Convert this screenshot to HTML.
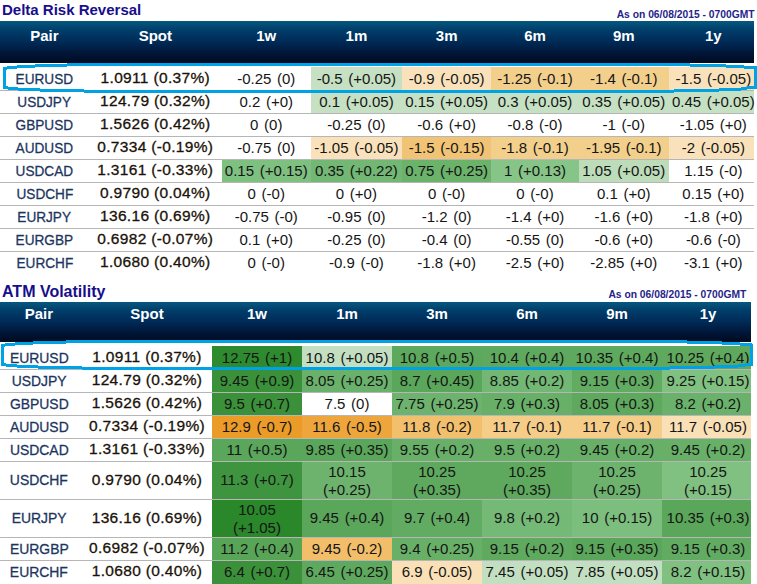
<!DOCTYPE html>
<html><head><meta charset="utf-8"><style>
html,body{margin:0;padding:0;background:#fff;}
body{width:757px;height:584px;position:relative;overflow:hidden;font-family:"Liberation Sans",sans-serif;}
div{position:absolute;}
p{position:absolute;margin:0;white-space:nowrap;line-height:20px;height:20px;}
p.dt,p.pr,p.sp,p.hd{width:300px;text-align:center;}
.hdr{background:linear-gradient(#05587e 0%,#013d6a 22%,#002a56 50%,#001638 76%,#000a20 100%);}
.hd{color:#fff;font-weight:bold;font-size:15px;}
.dt{color:#151515;font-size:15px;word-spacing:1.5px;}
.pr{color:#1c3560;font-size:15.3px;-webkit-text-stroke:0.3px #1c3560;}
.pr span{display:inline-block;transform:scaleX(0.89);}
.pr.t2 span{transform:scaleX(0.91);}
.sp{color:#1a1208;font-size:15.5px;-webkit-text-stroke:0.3px #1a1208;letter-spacing:0.33px;}
.ttl{color:#170e8c;font-weight:bold;font-size:15px;}
.ttl2{font-size:16px;}
.ason{color:#26248a;font-weight:bold;font-size:10.3px;}
</style></head><body>
<p class="ttl" style="left:2px;top:0px">Delta Risk Reversal</p>
<p class="ason" style="right:2.4px;top:4.5px">As on 06/08/2015 - 0700GMT</p>
<div class="hdr" style="left:0;top:21px;width:754px;height:42px"></div>
<p class="hd" style="left:-105.6px;top:25.7px">Pair</p>
<p class="hd" style="left:5.3px;top:25.7px">Spot</p>
<p class="hd" style="left:116.25px;top:25.7px">1w</p>
<p class="hd" style="left:206.4px;top:25.7px">1m</p>
<p class="hd" style="left:296.65px;top:25.7px">3m</p>
<p class="hd" style="left:385px;top:25.7px">6m</p>
<p class="hd" style="left:473.75px;top:25.7px">9m</p>
<p class="hd" style="left:563.3px;top:25.7px">1y</p>
<div style="left:310.5px;top:67px;width:91.8px;height:23px;background:#c5e0c3;"></div>
<div style="left:402.3px;top:67px;width:88.7px;height:23px;background:#f9e2bb;"></div>
<div style="left:491px;top:67px;width:88px;height:23px;background:#f3cf8c;"></div>
<div style="left:579px;top:67px;width:89.5px;height:23px;background:#f3cf8c;"></div>
<div style="left:668.5px;top:67px;width:85.5px;height:23px;background:#f9e2bb;"></div>
<div style="left:310.5px;top:91px;width:91.8px;height:22px;background:#c5e0c3;"></div>
<div style="left:402.3px;top:91px;width:88.7px;height:22px;background:#c5e0c3;"></div>
<div style="left:491px;top:91px;width:88px;height:22px;background:#c5e0c3;"></div>
<div style="left:579px;top:91px;width:89.5px;height:22px;background:#c5e0c3;"></div>
<div style="left:668.5px;top:91px;width:85.5px;height:22px;background:#c5e0c3;"></div>
<div style="left:310.5px;top:137px;width:91.8px;height:22px;background:#f9e2bb;"></div>
<div style="left:402.3px;top:137px;width:88.7px;height:22px;background:#f0c375;"></div>
<div style="left:491px;top:137px;width:88px;height:22px;background:#f3cf8c;"></div>
<div style="left:579px;top:137px;width:89.5px;height:22px;background:#f3cf8c;"></div>
<div style="left:668.5px;top:137px;width:85.5px;height:22px;background:#f9e2bb;"></div>
<div style="left:222px;top:160px;width:88.5px;height:22px;background:#7ec07f;"></div>
<div style="left:310.5px;top:160px;width:91.8px;height:22px;background:#72b773;"></div>
<div style="left:402.3px;top:160px;width:88.7px;height:22px;background:#6bb26b;"></div>
<div style="left:491px;top:160px;width:88px;height:22px;background:#86c587;"></div>
<div style="left:579px;top:160px;width:89.5px;height:22px;background:#bcdcba;"></div>
<div style="left:0px;top:90px;width:754px;height:1px;background:rgba(110,110,110,0.5);"></div>
<div style="left:0px;top:113px;width:754px;height:1px;background:rgba(110,110,110,0.5);"></div>
<div style="left:0px;top:136px;width:754px;height:1px;background:rgba(110,110,110,0.5);"></div>
<div style="left:0px;top:159px;width:754px;height:1px;background:rgba(110,110,110,0.5);"></div>
<div style="left:0px;top:182px;width:754px;height:1px;background:rgba(110,110,110,0.5);"></div>
<div style="left:0px;top:205px;width:754px;height:1px;background:rgba(110,110,110,0.5);"></div>
<div style="left:0px;top:228px;width:754px;height:1px;background:rgba(110,110,110,0.5);"></div>
<div style="left:0px;top:251px;width:754px;height:1px;background:rgba(110,110,110,0.5);"></div>
<p class="pr" style="left:-105.6px;top:68.5px"><span>EURUSD</span></p>
<p class="sp" style="left:5.3px;top:68.2px">1.0911 (0.37%)</p>
<p class="dt" style="left:116.25px;top:68.5px">-0.25 (0)</p>
<p class="dt" style="left:206.4px;top:68.5px">-0.5 (+0.05)</p>
<p class="dt" style="left:296.65px;top:68.5px">-0.9 (-0.05)</p>
<p class="dt" style="left:385px;top:68.5px">-1.25 (-0.1)</p>
<p class="dt" style="left:473.75px;top:68.5px">-1.4 (-0.1)</p>
<p class="dt" style="left:563.3px;top:68.5px">-1.5 (-0.05)</p>
<p class="pr" style="left:-105.6px;top:91.5px"><span>USDJPY</span></p>
<p class="sp" style="left:5.3px;top:91.2px">124.79 (0.32%)</p>
<p class="dt" style="left:116.25px;top:91.5px">0.2 (+0)</p>
<p class="dt" style="left:206.4px;top:91.5px">0.1 (+0.05)</p>
<p class="dt" style="left:296.65px;top:91.5px">0.15 (+0.05)</p>
<p class="dt" style="left:385px;top:91.5px">0.3 (+0.05)</p>
<p class="dt" style="left:473.75px;top:91.5px">0.35 (+0.05)</p>
<p class="dt" style="left:563.3px;top:91.5px">0.45 (+0.05)</p>
<p class="pr" style="left:-105.6px;top:114.5px"><span>GBPUSD</span></p>
<p class="sp" style="left:5.3px;top:114.2px">1.5626 (0.42%)</p>
<p class="dt" style="left:116.25px;top:114.5px">0 (0)</p>
<p class="dt" style="left:206.4px;top:114.5px">-0.25 (0)</p>
<p class="dt" style="left:296.65px;top:114.5px">-0.6 (+0)</p>
<p class="dt" style="left:385px;top:114.5px">-0.8 (-0)</p>
<p class="dt" style="left:473.75px;top:114.5px">-1 (-0)</p>
<p class="dt" style="left:563.3px;top:114.5px">-1.05 (+0)</p>
<p class="pr" style="left:-105.6px;top:137.5px"><span>AUDUSD</span></p>
<p class="sp" style="left:5.3px;top:137.2px">0.7334 (-0.19%)</p>
<p class="dt" style="left:116.25px;top:137.5px">-0.75 (0)</p>
<p class="dt" style="left:206.4px;top:137.5px">-1.05 (-0.05)</p>
<p class="dt" style="left:296.65px;top:137.5px">-1.5 (-0.15)</p>
<p class="dt" style="left:385px;top:137.5px">-1.8 (-0.1)</p>
<p class="dt" style="left:473.75px;top:137.5px">-1.95 (-0.1)</p>
<p class="dt" style="left:563.3px;top:137.5px">-2 (-0.05)</p>
<p class="pr" style="left:-105.6px;top:160.5px"><span>USDCAD</span></p>
<p class="sp" style="left:5.3px;top:160.2px">1.3161 (-0.33%)</p>
<p class="dt" style="left:116.25px;top:160.5px">0.15 (+0.15)</p>
<p class="dt" style="left:206.4px;top:160.5px">0.35 (+0.22)</p>
<p class="dt" style="left:296.65px;top:160.5px">0.75 (+0.25)</p>
<p class="dt" style="left:385px;top:160.5px">1 (+0.13)</p>
<p class="dt" style="left:473.75px;top:160.5px">1.05 (+0.05)</p>
<p class="dt" style="left:563.3px;top:160.5px">1.15 (-0)</p>
<p class="pr" style="left:-105.6px;top:183.5px"><span>USDCHF</span></p>
<p class="sp" style="left:5.3px;top:183.2px">0.9790 (0.04%)</p>
<p class="dt" style="left:116.25px;top:183.5px">0 (-0)</p>
<p class="dt" style="left:206.4px;top:183.5px">0 (+0)</p>
<p class="dt" style="left:296.65px;top:183.5px">0 (-0)</p>
<p class="dt" style="left:385px;top:183.5px">0 (-0)</p>
<p class="dt" style="left:473.75px;top:183.5px">0.1 (+0)</p>
<p class="dt" style="left:563.3px;top:183.5px">0.15 (+0)</p>
<p class="pr" style="left:-105.6px;top:206.5px"><span>EURJPY</span></p>
<p class="sp" style="left:5.3px;top:206.2px">136.16 (0.69%)</p>
<p class="dt" style="left:116.25px;top:206.5px">-0.75 (-0)</p>
<p class="dt" style="left:206.4px;top:206.5px">-0.95 (0)</p>
<p class="dt" style="left:296.65px;top:206.5px">-1.2 (0)</p>
<p class="dt" style="left:385px;top:206.5px">-1.4 (+0)</p>
<p class="dt" style="left:473.75px;top:206.5px">-1.6 (+0)</p>
<p class="dt" style="left:563.3px;top:206.5px">-1.8 (+0)</p>
<p class="pr" style="left:-105.6px;top:229.5px"><span>EURGBP</span></p>
<p class="sp" style="left:5.3px;top:229.2px">0.6982 (-0.07%)</p>
<p class="dt" style="left:116.25px;top:229.5px">0.1 (+0)</p>
<p class="dt" style="left:206.4px;top:229.5px">-0.25 (0)</p>
<p class="dt" style="left:296.65px;top:229.5px">-0.4 (0)</p>
<p class="dt" style="left:385px;top:229.5px">-0.55 (0)</p>
<p class="dt" style="left:473.75px;top:229.5px">-0.6 (+0)</p>
<p class="dt" style="left:563.3px;top:229.5px">-0.6 (-0)</p>
<p class="pr" style="left:-105.6px;top:252.5px"><span>EURCHF</span></p>
<p class="sp" style="left:5.3px;top:252.2px">1.0680 (0.40%)</p>
<p class="dt" style="left:116.25px;top:252.5px">0 (-0)</p>
<p class="dt" style="left:206.4px;top:252.5px">-0.9 (-0)</p>
<p class="dt" style="left:296.65px;top:252.5px">-1.8 (+0)</p>
<p class="dt" style="left:385px;top:252.5px">-2.5 (+0)</p>
<p class="dt" style="left:473.75px;top:252.5px">-2.85 (+0)</p>
<p class="dt" style="left:563.3px;top:252.5px">-3.1 (+0)</p>
<p class="ttl ttl2" style="left:2px;top:281.5px">ATM Volatility</p>
<p class="ason" style="right:10.7px;top:284.5px">As on 06/08/2015 - 0700GMT</p>
<div class="hdr" style="left:0;top:302px;width:751px;height:40px"></div>
<p class="hd" style="left:-111.1px;top:303.7px">Pair</p>
<p class="hd" style="left:-3px;top:303.7px">Spot</p>
<p class="hd" style="left:107px;top:303.7px">1w</p>
<p class="hd" style="left:197px;top:303.7px">1m</p>
<p class="hd" style="left:287px;top:303.7px">3m</p>
<p class="hd" style="left:377px;top:303.7px">6m</p>
<p class="hd" style="left:467px;top:303.7px">9m</p>
<p class="hd" style="left:558px;top:303.7px">1y</p>
<div style="left:212px;top:346px;width:90px;height:23px;background:#2e8a2e;"></div>
<div style="left:302px;top:346px;width:90px;height:23px;background:#c3dfc1;"></div>
<div style="left:392px;top:346px;width:90px;height:23px;background:#5ca85c;"></div>
<div style="left:482px;top:346px;width:90px;height:23px;background:#5ea95e;"></div>
<div style="left:572px;top:346px;width:90px;height:23px;background:#5ea95e;"></div>
<div style="left:662px;top:346px;width:89px;height:23px;background:#5ea95e;"></div>
<div style="left:212px;top:370px;width:90px;height:22px;background:#3a913a;"></div>
<div style="left:302px;top:370px;width:90px;height:22px;background:#6ab26b;"></div>
<div style="left:392px;top:370px;width:90px;height:22px;background:#5aa65a;"></div>
<div style="left:482px;top:370px;width:90px;height:22px;background:#72b773;"></div>
<div style="left:572px;top:370px;width:90px;height:22px;background:#62ab62;"></div>
<div style="left:662px;top:370px;width:89px;height:22px;background:#80c080;"></div>
<div style="left:212px;top:393px;width:90px;height:22px;background:#3a913a;"></div>
<div style="left:392px;top:393px;width:90px;height:22px;background:#6db36e;"></div>
<div style="left:482px;top:393px;width:90px;height:22px;background:#68b068;"></div>
<div style="left:572px;top:393px;width:90px;height:22px;background:#5ea95e;"></div>
<div style="left:662px;top:393px;width:89px;height:22px;background:#6ab26b;"></div>
<div style="left:212px;top:416px;width:90px;height:22px;background:#eb9b28;"></div>
<div style="left:302px;top:416px;width:90px;height:22px;background:#eea63c;"></div>
<div style="left:392px;top:416px;width:90px;height:22px;background:#f2bf6c;"></div>
<div style="left:482px;top:416px;width:90px;height:22px;background:#f5cd88;"></div>
<div style="left:572px;top:416px;width:90px;height:22px;background:#f5cd88;"></div>
<div style="left:662px;top:416px;width:89px;height:22px;background:#f9e0b6;"></div>
<div style="left:212px;top:439px;width:90px;height:22px;background:#5aa65a;"></div>
<div style="left:302px;top:439px;width:90px;height:22px;background:#5aa65a;"></div>
<div style="left:392px;top:439px;width:90px;height:22px;background:#68b068;"></div>
<div style="left:482px;top:439px;width:90px;height:22px;background:#68b068;"></div>
<div style="left:572px;top:439px;width:90px;height:22px;background:#68b068;"></div>
<div style="left:662px;top:439px;width:89px;height:22px;background:#68b068;"></div>
<div style="left:212px;top:462px;width:90px;height:37px;background:#3f953f;"></div>
<div style="left:302px;top:462px;width:90px;height:37px;background:#6db36e;"></div>
<div style="left:392px;top:462px;width:90px;height:37px;background:#5ea95e;"></div>
<div style="left:482px;top:462px;width:90px;height:37px;background:#5ea95e;"></div>
<div style="left:572px;top:462px;width:90px;height:37px;background:#6db36e;"></div>
<div style="left:662px;top:462px;width:89px;height:37px;background:#80c080;"></div>
<div style="left:212px;top:500px;width:90px;height:37px;background:#2a872a;"></div>
<div style="left:302px;top:500px;width:90px;height:37px;background:#5aa65a;"></div>
<div style="left:392px;top:500px;width:90px;height:37px;background:#62ab62;"></div>
<div style="left:482px;top:500px;width:90px;height:37px;background:#74b975;"></div>
<div style="left:572px;top:500px;width:90px;height:37px;background:#7cbe7d;"></div>
<div style="left:662px;top:500px;width:89px;height:37px;background:#5aa65a;"></div>
<div style="left:212px;top:538px;width:90px;height:22px;background:#58a558;"></div>
<div style="left:302px;top:538px;width:90px;height:22px;background:#f2be6a;"></div>
<div style="left:392px;top:538px;width:90px;height:22px;background:#68b068;"></div>
<div style="left:482px;top:538px;width:90px;height:22px;background:#60aa60;"></div>
<div style="left:572px;top:538px;width:90px;height:22px;background:#5aa65a;"></div>
<div style="left:662px;top:538px;width:89px;height:22px;background:#62ab62;"></div>
<div style="left:212px;top:561px;width:90px;height:23px;background:#3a913a;"></div>
<div style="left:302px;top:561px;width:90px;height:23px;background:#5ea95e;"></div>
<div style="left:392px;top:561px;width:90px;height:23px;background:#f9e0b6;"></div>
<div style="left:482px;top:561px;width:90px;height:23px;background:#c3dfc1;"></div>
<div style="left:572px;top:561px;width:90px;height:23px;background:#c3dfc1;"></div>
<div style="left:662px;top:561px;width:89px;height:23px;background:#80c080;"></div>
<div style="left:0px;top:369px;width:751px;height:1px;background:rgba(110,110,110,0.5);"></div>
<div style="left:0px;top:392px;width:751px;height:1px;background:rgba(110,110,110,0.5);"></div>
<div style="left:0px;top:415px;width:751px;height:1px;background:rgba(110,110,110,0.5);"></div>
<div style="left:0px;top:438px;width:751px;height:1px;background:rgba(110,110,110,0.5);"></div>
<div style="left:0px;top:461px;width:751px;height:1px;background:rgba(110,110,110,0.5);"></div>
<div style="left:0px;top:499px;width:751px;height:1px;background:rgba(110,110,110,0.5);"></div>
<div style="left:0px;top:537px;width:751px;height:1px;background:rgba(110,110,110,0.5);"></div>
<div style="left:0px;top:560px;width:751px;height:1px;background:rgba(110,110,110,0.5);"></div>
<p class="pr t2" style="left:-111.1px;top:347.5px"><span>EURUSD</span></p>
<p class="sp" style="left:-3px;top:347.2px">1.0911 (0.37%)</p>
<p class="dt" style="left:107px;top:347.5px">12.75 (+1)</p>
<p class="dt" style="left:197px;top:347.5px">10.8 (+0.05)</p>
<p class="dt" style="left:287px;top:347.5px">10.8 (+0.5)</p>
<p class="dt" style="left:377px;top:347.5px">10.4 (+0.4)</p>
<p class="dt" style="left:467px;top:347.5px">10.35 (+0.4)</p>
<p class="dt" style="left:558px;top:347.5px">10.25 (+0.4)</p>
<p class="pr t2" style="left:-111.1px;top:370.5px"><span>USDJPY</span></p>
<p class="sp" style="left:-3px;top:370.2px">124.79 (0.32%)</p>
<p class="dt" style="left:107px;top:370.5px">9.45 (+0.9)</p>
<p class="dt" style="left:197px;top:370.5px">8.05 (+0.25)</p>
<p class="dt" style="left:287px;top:370.5px">8.7 (+0.45)</p>
<p class="dt" style="left:377px;top:370.5px">8.85 (+0.2)</p>
<p class="dt" style="left:467px;top:370.5px">9.15 (+0.3)</p>
<p class="dt" style="left:558px;top:370.5px">9.25 (+0.15)</p>
<p class="pr t2" style="left:-111.1px;top:393.5px"><span>GBPUSD</span></p>
<p class="sp" style="left:-3px;top:393.2px">1.5626 (0.42%)</p>
<p class="dt" style="left:107px;top:393.5px">9.5 (+0.7)</p>
<p class="dt" style="left:197px;top:393.5px">7.5 (0)</p>
<p class="dt" style="left:287px;top:393.5px">7.75 (+0.25)</p>
<p class="dt" style="left:377px;top:393.5px">7.9 (+0.3)</p>
<p class="dt" style="left:467px;top:393.5px">8.05 (+0.3)</p>
<p class="dt" style="left:558px;top:393.5px">8.2 (+0.2)</p>
<p class="pr t2" style="left:-111.1px;top:416.5px"><span>AUDUSD</span></p>
<p class="sp" style="left:-3px;top:416.2px">0.7334 (-0.19%)</p>
<p class="dt" style="left:107px;top:416.5px">12.9 (-0.7)</p>
<p class="dt" style="left:197px;top:416.5px">11.6 (-0.5)</p>
<p class="dt" style="left:287px;top:416.5px">11.8 (-0.2)</p>
<p class="dt" style="left:377px;top:416.5px">11.7 (-0.1)</p>
<p class="dt" style="left:467px;top:416.5px">11.7 (-0.1)</p>
<p class="dt" style="left:558px;top:416.5px">11.7 (-0.05)</p>
<p class="pr t2" style="left:-111.1px;top:439.5px"><span>USDCAD</span></p>
<p class="sp" style="left:-3px;top:439.2px">1.3161 (-0.33%)</p>
<p class="dt" style="left:107px;top:439.5px">11 (+0.5)</p>
<p class="dt" style="left:197px;top:439.5px">9.85 (+0.35)</p>
<p class="dt" style="left:287px;top:439.5px">9.55 (+0.2)</p>
<p class="dt" style="left:377px;top:439.5px">9.5 (+0.2)</p>
<p class="dt" style="left:467px;top:439.5px">9.45 (+0.2)</p>
<p class="dt" style="left:558px;top:439.5px">9.45 (+0.2)</p>
<p class="pr t2" style="left:-111.1px;top:470.1px"><span>USDCHF</span></p>
<p class="sp" style="left:-3px;top:469.8px">0.9790 (0.04%)</p>
<p class="dt" style="left:107px;top:470.1px">11.3 (+0.7)</p>
<p class="dt" style="left:197px;top:462.3px">10.15</p>
<p class="dt" style="left:197px;top:480px">(+0.25)</p>
<p class="dt" style="left:287px;top:462.3px">10.25</p>
<p class="dt" style="left:287px;top:480px">(+0.35)</p>
<p class="dt" style="left:377px;top:462.3px">10.25</p>
<p class="dt" style="left:377px;top:480px">(+0.35)</p>
<p class="dt" style="left:467px;top:462.3px">10.25</p>
<p class="dt" style="left:467px;top:480px">(+0.25)</p>
<p class="dt" style="left:558px;top:462.3px">10.25</p>
<p class="dt" style="left:558px;top:480px">(+0.15)</p>
<p class="pr t2" style="left:-111.1px;top:508.1px"><span>EURJPY</span></p>
<p class="sp" style="left:-3px;top:507.8px">136.16 (0.69%)</p>
<p class="dt" style="left:107px;top:500.3px">10.05</p>
<p class="dt" style="left:107px;top:518px">(+1.05)</p>
<p class="dt" style="left:197px;top:508.1px">9.45 (+0.4)</p>
<p class="dt" style="left:287px;top:508.1px">9.7 (+0.4)</p>
<p class="dt" style="left:377px;top:508.1px">9.8 (+0.2)</p>
<p class="dt" style="left:467px;top:508.1px">10 (+0.15)</p>
<p class="dt" style="left:558px;top:508.1px">10.35 (+0.3)</p>
<p class="pr t2" style="left:-111.1px;top:538.5px"><span>EURGBP</span></p>
<p class="sp" style="left:-3px;top:538.2px">0.6982 (-0.07%)</p>
<p class="dt" style="left:107px;top:538.5px">11.2 (+0.4)</p>
<p class="dt" style="left:197px;top:538.5px">9.45 (-0.2)</p>
<p class="dt" style="left:287px;top:538.5px">9.4 (+0.25)</p>
<p class="dt" style="left:377px;top:538.5px">9.15 (+0.2)</p>
<p class="dt" style="left:467px;top:538.5px">9.15 (+0.35)</p>
<p class="dt" style="left:558px;top:538.5px">9.15 (+0.3)</p>
<p class="pr t2" style="left:-111.1px;top:561.5px"><span>EURCHF</span></p>
<p class="sp" style="left:-3px;top:561.2px">1.0680 (0.40%)</p>
<p class="dt" style="left:107px;top:561.5px">6.4 (+0.7)</p>
<p class="dt" style="left:197px;top:561.5px">6.45 (+0.25)</p>
<p class="dt" style="left:287px;top:561.5px">6.9 (-0.05)</p>
<p class="dt" style="left:377px;top:561.5px">7.45 (+0.05)</p>
<p class="dt" style="left:467px;top:561.5px">7.85 (+0.05)</p>
<p class="dt" style="left:558px;top:561.5px">8.2 (+0.15)</p>
<div style="left:3px;top:67px;width:4px;height:3px;background:#00a2e6"></div>
<div style="left:7px;top:66px;width:10px;height:3px;background:#00a2e6"></div>
<div style="left:17px;top:65px;width:18px;height:3px;background:#00a2e6"></div>
<div style="left:35px;top:64px;width:32px;height:3px;background:#00a2e6"></div>
<div style="left:67px;top:63px;width:623px;height:3px;background:#00a2e6"></div>
<div style="left:690px;top:64px;width:36px;height:3px;background:#00a2e6"></div>
<div style="left:726px;top:65px;width:18px;height:3px;background:#00a2e6"></div>
<div style="left:744px;top:66px;width:13px;height:3px;background:#00a2e6"></div>
<div style="left:3px;top:86px;width:5px;height:3px;background:#00a2e6"></div>
<div style="left:8px;top:87px;width:10px;height:3px;background:#00a2e6"></div>
<div style="left:18px;top:88px;width:22px;height:3px;background:#00a2e6"></div>
<div style="left:40px;top:89px;width:44px;height:3px;background:#00a2e6"></div>
<div style="left:84px;top:90px;width:590px;height:3px;background:#00a2e6"></div>
<div style="left:674px;top:89px;width:45px;height:3px;background:#00a2e6"></div>
<div style="left:719px;top:88px;width:22px;height:3px;background:#00a2e6"></div>
<div style="left:741px;top:87px;width:6px;height:3px;background:#00a2e6"></div>
<div style="left:747px;top:86px;width:10px;height:3px;background:#00a2e6"></div>
<div style="left:3px;top:67px;width:3px;height:22px;background:#00a2e6"></div>
<div style="left:754px;top:66px;width:3px;height:23px;background:#00a2e6"></div>
<div style="left:1px;top:344px;width:4px;height:3px;background:#00a2e6"></div>
<div style="left:5px;top:343px;width:10px;height:3px;background:#00a2e6"></div>
<div style="left:15px;top:342px;width:18px;height:3px;background:#00a2e6"></div>
<div style="left:33px;top:341px;width:33px;height:3px;background:#00a2e6"></div>
<div style="left:66px;top:340px;width:621px;height:3px;background:#00a2e6"></div>
<div style="left:687px;top:341px;width:35px;height:3px;background:#00a2e6"></div>
<div style="left:722px;top:342px;width:18px;height:3px;background:#00a2e6"></div>
<div style="left:740px;top:343px;width:12px;height:3px;background:#00a2e6"></div>
<div style="left:1px;top:363px;width:5px;height:3px;background:#00a2e6"></div>
<div style="left:6px;top:364px;width:11px;height:3px;background:#00a2e6"></div>
<div style="left:17px;top:365px;width:21px;height:3px;background:#00a2e6"></div>
<div style="left:38px;top:366px;width:44px;height:3px;background:#00a2e6"></div>
<div style="left:82px;top:367px;width:588px;height:3px;background:#00a2e6"></div>
<div style="left:670px;top:366px;width:45px;height:3px;background:#00a2e6"></div>
<div style="left:715px;top:365px;width:23px;height:3px;background:#00a2e6"></div>
<div style="left:738px;top:364px;width:7px;height:3px;background:#00a2e6"></div>
<div style="left:745px;top:363px;width:7px;height:3px;background:#00a2e6"></div>
<div style="left:1px;top:344px;width:3px;height:22px;background:#00a2e6"></div>
<div style="left:750px;top:344px;width:3px;height:22px;background:#00a2e6"></div>
</body></html>
